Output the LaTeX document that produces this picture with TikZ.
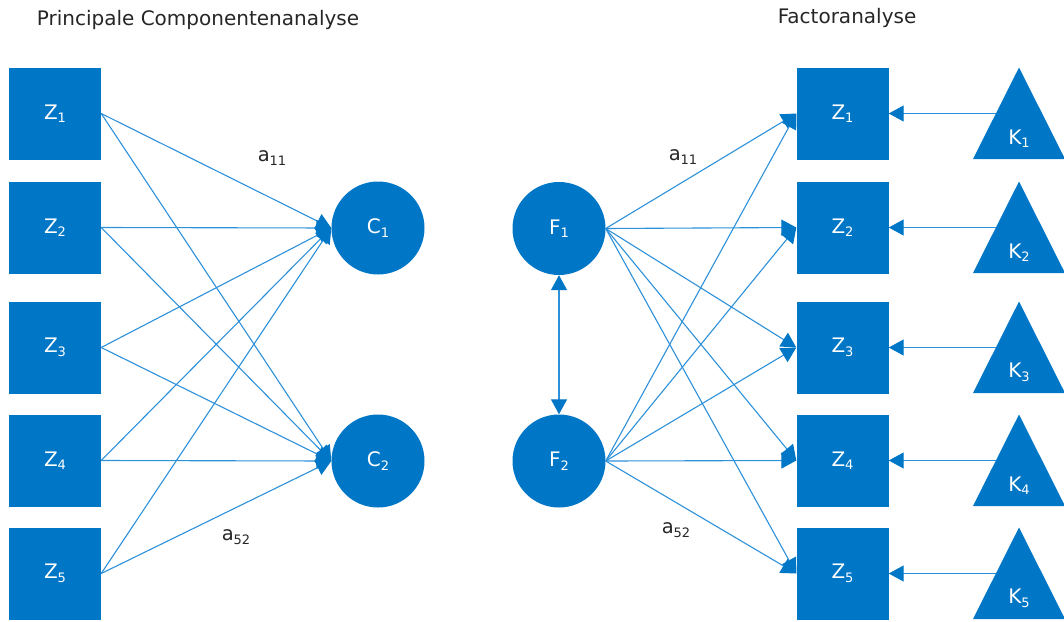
\documentclass[tikz,border=0pt]{standalone}
\usepackage{fontspec}
\setmainfont{DejaVu Sans}
\usetikzlibrary{arrows.meta}
\definecolor{fillblue}{RGB}{0,118,198}
\definecolor{lineblue}{RGB}{45,145,218}
\newcommand\mysub[2]{#1\raisebox{-3.5pt}{\fontsize{13}{13}\selectfont #2}}
\begin{document}
\begin{tikzpicture}[x=1pt,y=-1pt,
  box/.style={fill=fillblue, minimum width=92pt, minimum height=92pt, inner sep=0pt, text=white, font=\fontsize{20}{20}\selectfont},
  circ/.style={circle, fill=fillblue, minimum size=93pt, inner sep=0pt, text=white, font=\fontsize{20}{20}\selectfont},
  klbl/.style={font=\fontsize{20}{20}\selectfont, text=white},
  conn/.style={draw=lineblue, line width=1.1pt, -{Triangle[length=15pt,width=16pt,color=fillblue]}},
  dconn/.style={draw=lineblue, line width=1.1pt, {Triangle[length=15pt,width=16pt,color=fillblue]}-{Triangle[length=15pt,width=16pt,color=fillblue]}},
  ttl/.style={font=\fontsize{20}{20}\selectfont, text=black!85},
  wgt/.style={font=\fontsize{19.5}{19.5}\selectfont, text=black!85}
]
\useasboundingbox (0,0) rectangle (1064,621);
% titles
\node[ttl] (t1) at (198,20) {Principale Componentenanalyse};
\node[ttl] (t2) at (847,18) {Factoranalyse};
% left boxes
\foreach \i/\y in {1/113.5,2/227.5,3/347.5,4/460.5,5/573.5}{
  \node[box] (zl\i) at (55,\y) {\mysub{Z}{\i}};
}
\node[circ] (c1) at (378,228) {\mysub{C}{1}};
\node[circ] (c2) at (378,461) {\mysub{C}{2}};
\node[circ] (f1) at (559,228.5) {\mysub{F}{1}};
\node[circ] (f2) at (559,461) {\mysub{F}{2}};
% right boxes and triangles
\foreach \i/\y in {1/113.5,2/227.5,3/347.5,4/460.5,5/573.5}{
  \node[box] (zr\i) at (842.5,\y) {\mysub{Z}{\i}};
  \fill[fillblue] (1019,\y-46) -- (1065,\y+45.5) -- (973,\y+45.5) -- cycle;
  \node[klbl] (k\i) at (1019,\y+25) {\mysub{K}{\i}};
  \coordinate (kw\i) at (996,\y);
  \draw[conn] (kw\i) -- (zr\i.east);
}
% left connectors
\foreach \i in {1,...,5}{
  \draw[conn] (zl\i.east) -- (c1.west);
  \draw[conn] (zl\i.east) -- (c2.west);
}
% right connectors
\foreach \i in {1,...,5}{
  \draw[conn] (f1.east) -- (zr\i.west);
  \draw[conn] (f2.east) -- (zr\i.west);
}
\draw[dconn] (f1.south) -- (f2.north);
% weights
\node[wgt] (w1) at (272,158) {\mysub{a}{11}};
\node[wgt] (w2) at (236,537) {\mysub{a}{52}};
\node[wgt] (w3) at (683,157) {\mysub{a}{11}};
\node[wgt] (w4) at (676,530) {\mysub{a}{52}};
\end{tikzpicture}
\end{document}
